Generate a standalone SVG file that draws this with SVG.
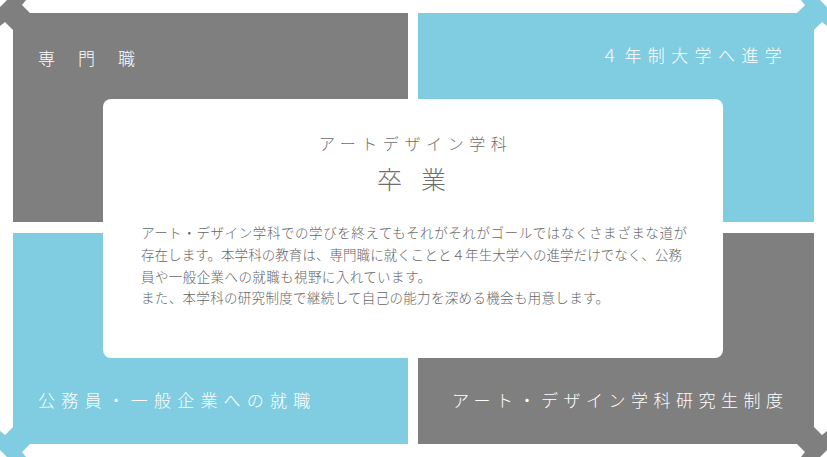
<svg xmlns="http://www.w3.org/2000/svg" width="827" height="457" viewBox="0 0 827 457">
<defs>
<style>
.gray{fill:#7f7f7f}
.blue{fill:#80cde1}
.lbl{font-family:"Noto Sans CJK JP","Noto Sans",sans-serif;font-size:17px;fill:#ffffff;font-weight:300}
.ttl{font-family:"Noto Sans CJK JP","Noto Sans",sans-serif;fill:#6e6e6e;font-weight:300}
.body{font-family:"Noto Sans CJK JP","Noto Sans",sans-serif;font-size:13.5px;fill:#666666;font-weight:300}
</style>
<path id="ah" d="M7,0 L26,0 L22,5 L32,15 L15,32 L5,22 L0,26 L0,7 Z"/>
</defs>
<rect width="827" height="457" fill="#ffffff"/>
<g id="connectors">
<use href="#ah" class="gray"/>
<use href="#ah" class="blue" transform="translate(827,0) scale(-1,1)"/>
<use href="#ah" class="blue" transform="translate(0,457) scale(1,-1)"/>
<use href="#ah" class="gray" transform="translate(827,457) scale(-1,-1)"/>
</g>
<g id="node-senmonshoku">
<rect class="gray" x="13" y="13" width="395" height="209"/>
<text class="lbl" x="38 78 118" y="65">専門職</text>
</g>
<g id="node-daigaku">
<rect class="blue" x="418" y="13" width="396" height="209"/>
<text class="lbl" x="601" y="62" letter-spacing="6.4">４年制大学へ進学</text>
</g>
<g id="node-koumuin">
<rect class="blue" x="13" y="233" width="395" height="211"/>
<text class="lbl" x="38" y="407" letter-spacing="6.2">公務員・一般企業への就職</text>
</g>
<g id="node-kenkyusei">
<rect class="gray" x="418" y="233" width="396" height="211"/>
<text class="lbl" x="452" y="407" letter-spacing="5.5">アート・デザイン学科研究生制度</text>
</g>
<g id="node-sotsugyo">
<rect x="103" y="99" width="620" height="259" rx="8" fill="#ffffff"/>
<text class="ttl" x="319" y="149.5" font-size="16" letter-spacing="5.6">アートデザイン学科</text>
<text class="ttl" x="377 421" y="188.5" font-size="25">卒業</text>
<text class="body" x="141" y="237.5" textLength="546" lengthAdjust="spacing">アート・デザイン学科での学びを終えてもそれがそれがゴールではなくさまざまな道が</text>
<text class="body" x="141" y="259.5" textLength="541" lengthAdjust="spacing">存在します。本学科の教育は、専門職に就くことと４年生大学への進学だけでなく、公務</text>
<text class="body" x="141" y="281.5" textLength="290" lengthAdjust="spacing">員や一般企業への就職も視野に入れています。</text>
<text class="body" x="141" y="303" textLength="468" lengthAdjust="spacing">また、本学科の研究制度で継続して自己の能力を深める機会も用意します。</text>
</g>
</svg>
